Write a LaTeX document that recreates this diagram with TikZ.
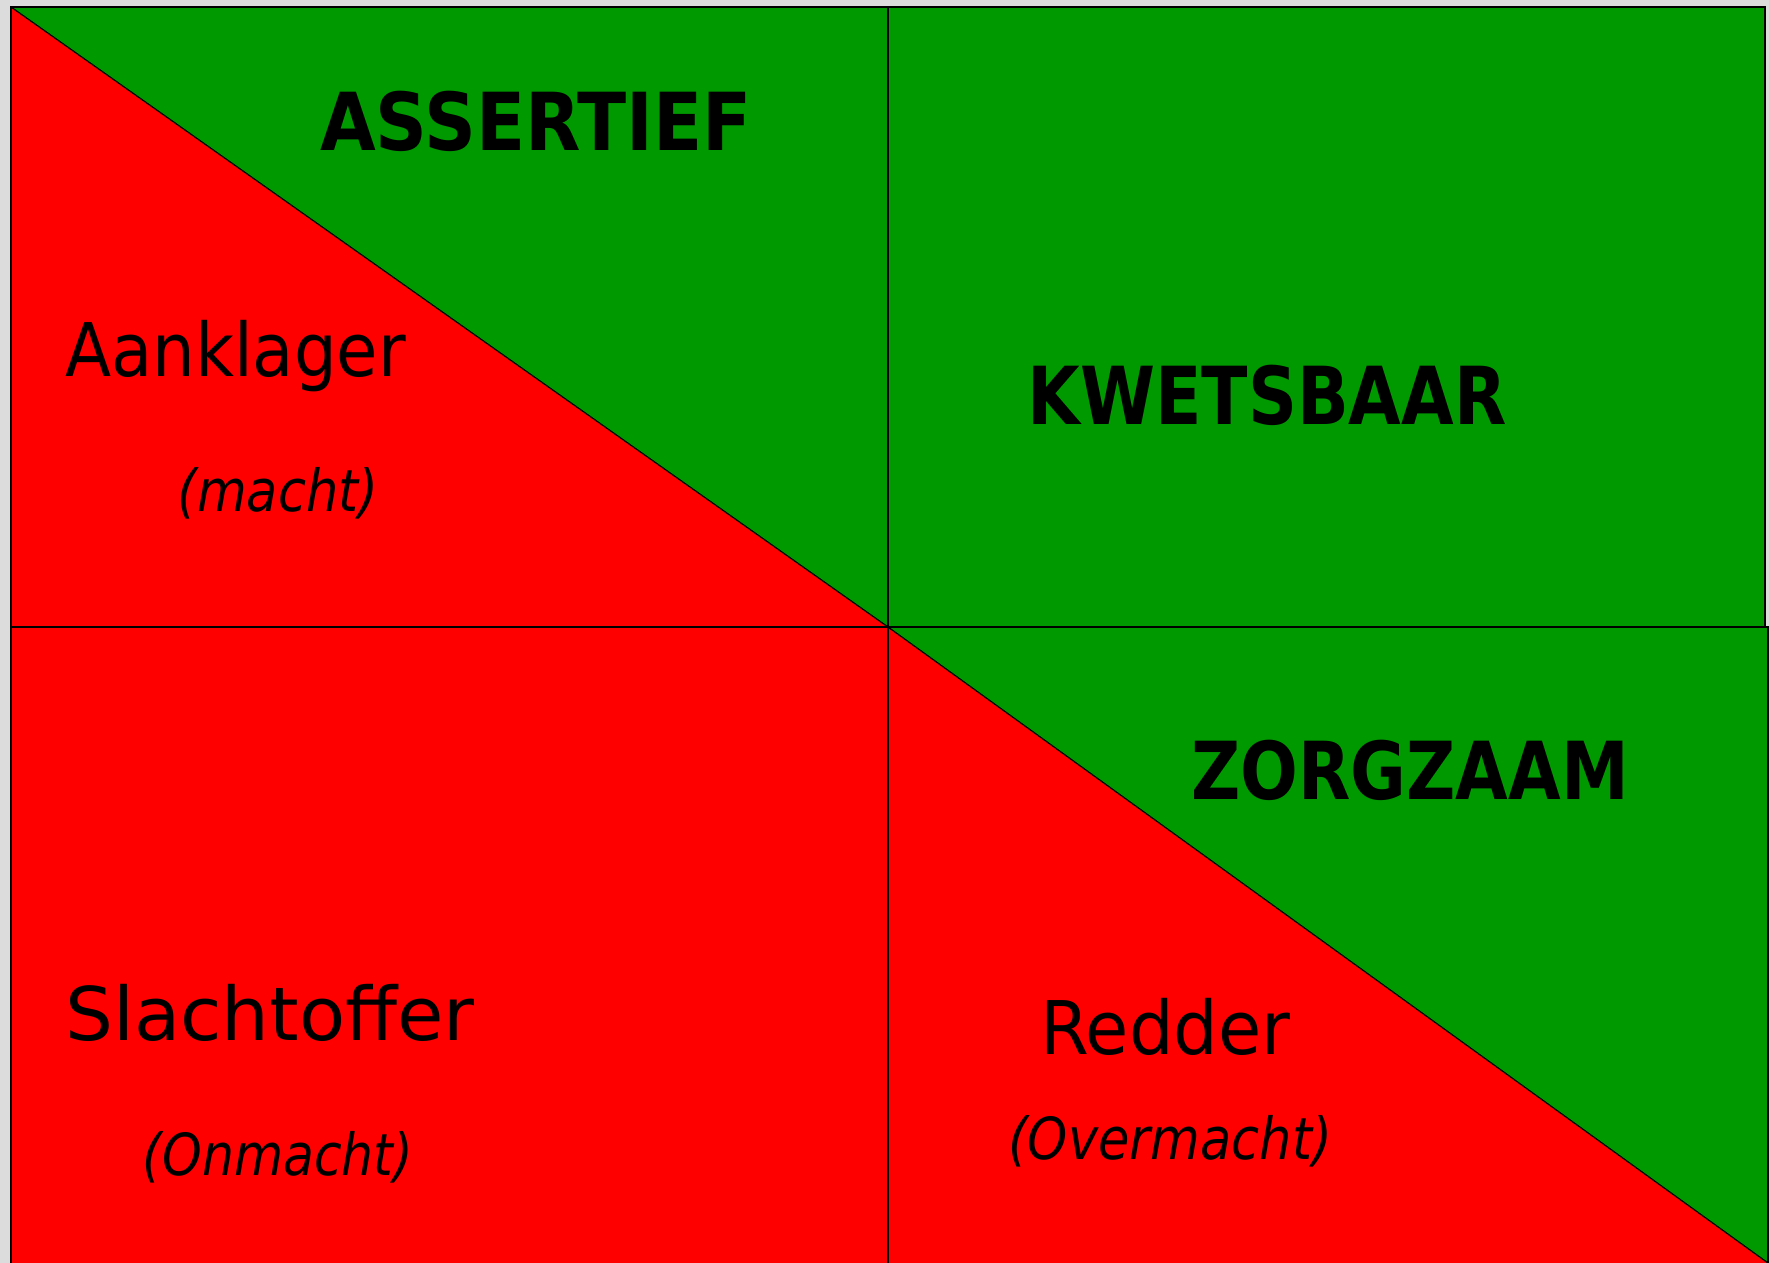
\documentclass[tikz,border=0pt]{standalone}
\usepackage{fontspec}
\usepackage{graphicx}
\setmainfont{DejaVu Sans}
\definecolor{cred}{RGB}{255,0,0}
\definecolor{cgreen}{RGB}{0,153,0}
\definecolor{cgray}{RGB}{220,220,220}
\newcommand{\xs}[2]{\scalebox{#1}[1]{#2}}
\begin{document}
\begin{tikzpicture}[x=1pt,y=-1pt,
  edge/.style={draw=black,line width=1.3pt},
  caps/.style={font=\fontsize{80}{90}\selectfont\bfseries,inner sep=0pt},
  role/.style={font=\fontsize{74}{84}\selectfont,inner sep=0pt},
  sub/.style={font=\fontsize{58}{68}\selectfont\itshape,inner sep=0pt}]
\fill[cgray] (0,0) rectangle (1769,1263);
\useasboundingbox (0,0) rectangle (1769,1263);
% top-left quadrant
\fill[cred] (11,7) rectangle (888,627);
\fill[cgreen] (11,7) -- (888,7) -- (888,627) -- cycle;
% top-right quadrant
\fill[cgreen] (888,7) rectangle (1765,627);
% bottom-left quadrant
\fill[cred] (11,627) rectangle (888,1263);
% bottom-right quadrant
\fill[cred] (888,627) rectangle (1768,1263);
\fill[cgreen] (888,627) -- (1768,627) -- (1768,1263) -- cycle;
% outlines
\draw[edge] (11,7) rectangle (888,627);
\draw[edge] (888,7) rectangle (1765,627);
\draw[edge] (11,627) rectangle (888,1265);
\draw[edge] (888,627) rectangle (1768,1265);
\draw[edge] (11,7) -- (888,627);
\draw[edge] (888,627) -- (1768,1263);
% labels
\node[caps] (assertief) at (536,121) {\xs{0.9}{ASSERTIEF}};
\node[caps] (kwetsbaar) at (1267,395) {\xs{0.85}{KWETSBAAR}};
\node[caps] (zorgzaam) at (1410,770) {\xs{0.85}{ZORGZAAM}};
\node[role,anchor=base west] (aanklager) at (65,376) {\xs{0.91}{Aanklager}};
\node[sub] (macht) at (278,493) {\xs{0.88}{(macht)}};
\node[role,anchor=base west] (slachtoffer) at (65,1040) {\xs{1.02}{Slachtoffer}};
\node[sub] (onmacht) at (278,1157) {\xs{0.87}{(Onmacht)}};
\node[role,anchor=base west] (redder) at (1040,1054) {\xs{0.95}{Redder}};
\node[sub] (overmacht) at (1170,1141) {\xs{0.88}{(Overmacht)}};
\end{tikzpicture}
\end{document}
